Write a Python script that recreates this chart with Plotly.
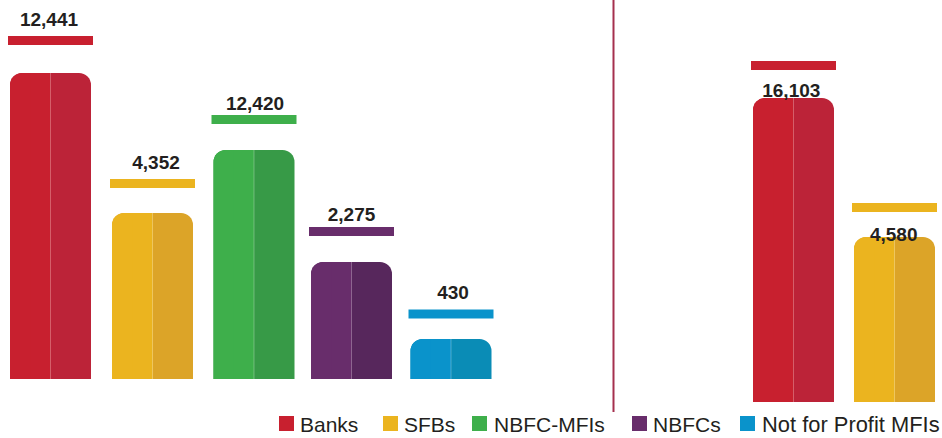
import plotly.graph_objects as go

# ---- data ----
categories = ["Banks", "SFBs", "NBFC-MFIs", "NBFCs", "Not for Profit MFIs"]
left_values = [12441, 4352, 12420, 2275, 430]
right_values = [16103, 4580]
# drawn bar heights (the source graphic is not proportional to its labels)
left_heights = [306, 166, 229, 117, 40]
right_heights = [304, 165]
left_cap_levels = [334, 191, 255, 143, 60.5]
right_cap_levels = [332, 190]
left_label_levels = [358, 214.5, 274, 163, 85]
right_label_levels = [310, 166]

# ---- layout / style ----
W, H = 942, 438
left_base, right_base = 59, 36
left_centers = [50.5, 152.5, 254, 351.5, 451]
right_centers = [793.5, 894.5]
left_label_x = [49, 156, 255, 351.5, 453]
right_label_x = [791.3, 893.7]
bar_w, cap_w, cap_t = 81, 85, 9
light = ["#C8202F", "#EBB41F", "#3EAF4B", "#682D6B", "#0A93CB"]
dark = ["#BC2338", "#DCA428", "#379A47", "#57275C", "#0A8CB6"]

fig = go.Figure()


def panel(centers, heights, values, caps, labels, label_x, base_px, yaxis):
    n = len(centers)
    cl, cd = light[:n], dark[:n]
    common = dict(xaxis="x", yaxis=yaxis, hoverinfo="skip")
    fig.add_bar(x=centers, y=heights, width=[bar_w] * n,
                marker=dict(color=cd, cornerradius=12, line_width=0), **common)
    fig.add_bar(x=[c - bar_w / 4 for c in centers], y=heights, width=[bar_w / 2] * n,
                marker=dict(color=cl, cornerradius=12, line_width=0), **common)
    fig.add_bar(x=[c - bar_w / 8 for c in centers], y=heights, width=[bar_w / 4] * n,
                marker=dict(color=cl, line_width=0), **common)
    fig.add_bar(x=centers, y=heights, width=[1] * n,
                marker=dict(color="rgba(255,255,255,0.28)", line_width=0), **common)
    # caps live on the full-height axis so they don't interfere with the bars' rounding
    fig.add_bar(x=centers, y=[cap_t] * n, base=[c + base_px for c in caps], width=[cap_w] * n,
                marker=dict(color=cl, line_width=0), xaxis="x", yaxis="y3", hoverinfo="skip")
    fig.add_scatter(x=label_x, y=labels, mode="text", cliponaxis=False,
                    text=[f"{v:,}" for v in values], textposition="middle center",
                    textfont=dict(family="Liberation Sans", size=19, color="#231F20", weight="bold"),
                    **common)


panel(left_centers, left_heights, left_values, left_cap_levels, left_label_levels,
      left_label_x, left_base, "y")
panel(right_centers, right_heights, right_values, right_cap_levels, right_label_levels,
      right_label_x, right_base, "y2")

# legend row
swatch_x = [286.5, 390.5, 479.5, 639.5, 747.5]
text_x = [300, 404, 494, 653, 762]
text_sizes = [21, 21, 21, 21, 21.9]
fig.add_scatter(x=swatch_x, y=[H - 423.5] * 5, mode="markers", xaxis="x", yaxis="y3", hoverinfo="skip",
                marker=dict(symbol="square", size=15, color=light, line_width=0))
for t, x, s in zip(categories, text_x, text_sizes):
    fig.add_annotation(x=x, y=H - 424.5, xref="x", yref="y3", text=t, showarrow=False,
                       xanchor="left", yanchor="middle", xshift=-2,
                       font=dict(family="Liberation Sans", size=s, color="#231F20"))

fig.add_shape(type="line", xref="x", yref="y3", x0=613.5, x1=613.5, y0=H - 412, y1=H,
              line=dict(color="#A5304F", width=2))

fig.update_layout(width=W, height=H, margin=dict(l=0, r=0, t=0, b=0),
                  paper_bgcolor="white", plot_bgcolor="rgba(0,0,0,0)", barmode="overlay",
                  showlegend=False,
                  xaxis=dict(range=[0, W], visible=False, fixedrange=True, anchor="y3"),
                  yaxis=dict(range=[0, H - left_base], domain=[left_base / H, 1],
                             visible=False, fixedrange=True, anchor="x"),
                  yaxis2=dict(range=[0, H - right_base], domain=[right_base / H, 1],
                              visible=False, fixedrange=True, anchor="x"),
                  yaxis3=dict(range=[0, H], domain=[0, 1],
                              visible=False, fixedrange=True, anchor="x"))
fig.write_html("out.html", config={"displayModeBar": False},
               post_script="document.body.style.margin='0';document.body.style.overflow='hidden';")
